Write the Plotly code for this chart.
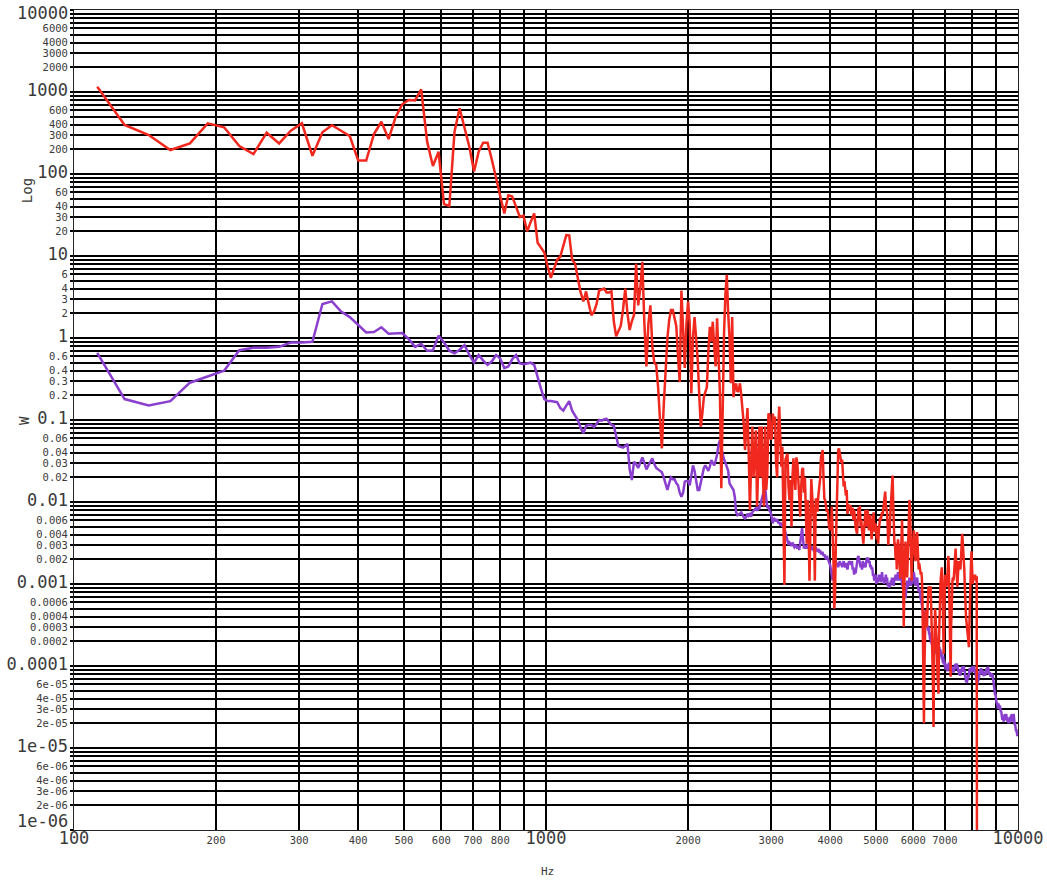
import plotly.graph_objects as go

# FFT bin spacing (Hz) and first bin index shown
BIN_HZ = 16
FIRST_BIN = 7

# Spectrum magnitudes, one value per 16 Hz bin starting at 112 Hz
log_series = [
    1160, 396, 299, 196, 236, 415, 371, 219, 175, 319,
    236, 337, 415, 167, 323, 393, 337, 290, 146, 146,
    307, 434, 267, 491, 708, 798, 790, 1079, 248, 125,
    187, 43, 40.7, 328, 633, 361, 215, 107, 187, 241,
    240, 148, 89, 58, 33, 55, 53, 40, 30, 31,
    20, 26, 33, 14.5, 12.5, 11, 7.5, 5.4, 7.0, 9.0,
    9.8, 13, 18, 17.8, 9.0, 8.1, 5.5, 3.6, 2.8, 3.7,
    2.6, 1.9, 2.1, 2.6, 3.8, 3.9, 4.0, 3.6, 3.6, 3.7,
    1.6, 1.05, 1.2, 1.4, 2.2, 4.0, 2.0, 1.25, 1.6, 1.9,
    8.1, 2.5, 4.0, 8.5, 1.5, 0.45, 1.5, 2.5, 0.78, 0.5,
    0.47, 0.25, 0.1, 0.045, 0.15, 0.49, 1.0, 1.66, 2.2, 2.2,
    1.8, 1.4, 0.6, 0.29, 3.8, 1.0, 0.43, 1.5, 2.8,
    1.5, 0.21, 1.0, 1.8, 1.0, 0.54, 0.2, 0.083, 0.12, 0.19,
    0.22, 0.25, 0.7, 1.37, 0.9, 1.58, 0.8, 0.45, 1.74, 0.6,
    0.21, 0.0147, 0.21, 1.2, 3.5, 5.9, 2.0, 1.0, 0.28, 1.8,
    0.19, 0.25, 0.28, 0.22, 0.23, 0.28, 0.2, 0.13, 0.09, 0.043,
    0.09, 0.14, 0.04, 0.008, 0.03, 0.083, 0.02, 0.05, 0.075, 0.0088,
    0.04, 0.083, 0.02, 0.083, 0.022, 0.0088, 0.083, 0.014, 0.022, 0.12,
    0.115, 0.058, 0.06, 0.12, 0.09, 0.11, 0.03, 0.02, 0.08, 0.146,
    0.06, 0.027, 0.047, 0.0105, 0.00097, 0.033, 0.036, 0.039, 0.0154, 0.0105,
    0.0185, 0.005, 0.02, 0.034, 0.02, 0.014, 0.035, 0.03, 0.019, 0.0129,
    0.0066, 0.015, 0.025, 0.026, 0.013, 0.02, 0.0092, 0.0031, 0.0106, 0.005,
    0.0011, 0.006, 0.019, 0.012, 0.008, 0.0055, 0.0011, 0.011, 0.0105, 0.0076,
    0.012, 0.015, 0.019, 0.035, 0.041, 0.043, 0.02, 0.011, 0.0105, 0.009,
    0.0076, 0.008, 0.006, 0.0046, 0.005, 0.0045, 0.0088, 0.0045, 0.002, 0.0005,
    0.0007, 0.0029, 0.0088, 0.02, 0.043, 0.045, 0.04, 0.035, 0.03, 0.033,
    0.025, 0.0155, 0.018, 0.014, 0.012, 0.014, 0.0071, 0.0085, 0.009, 0.0088,
    0.0092, 0.0072, 0.0069, 0.0085, 0.006, 0.008, 0.0055, 0.005, 0.0045, 0.0041,
    0.006, 0.0085, 0.007, 0.009, 0.005, 0.006, 0.0045, 0.0038, 0.0031, 0.0045,
    0.006, 0.008, 0.0065, 0.005, 0.008, 0.0045, 0.0045, 0.0065, 0.007, 0.005,
    0.0035, 0.0045, 0.006, 0.0075, 0.005, 0.0043, 0.0055, 0.004, 0.0035, 0.005,
    0.0031, 0.0045, 0.0055, 0.0065, 0.006, 0.0075, 0.0075, 0.007, 0.0085, 0.009,
    0.011, 0.0134, 0.009, 0.0075, 0.0075, 0.005, 0.003, 0.005, 0.004, 0.0065,
    0.008, 0.012, 0.016, 0.021, 0.01, 0.005, 0.0031, 0.0031, 0.002, 0.0025,
    0.0015, 0.0025, 0.0035, 0.003, 0.002, 0.0015, 0.00117, 0.002, 0.004, 0.006,
    0.003, 0.001, 0.0003, 0.001, 0.002, 0.0033, 0.002, 0.0015, 0.0012, 0.002,
    0.004, 0.007, 0.0106, 0.009, 0.004, 0.0018, 0.0011, 0.002, 0.003, 0.004,
    0.0045, 0.0035, 0.0025, 0.0019, 0.0025, 0.0035, 0.0043, 0.003, 0.002, 0.0015,
    0.0018, 0.0016, 0.0016, 0.0013, 0.0014, 0.0012, 0.0008, 0.0003, 8e-5, 2e-5,
    0.0001, 0.0003, 0.00048, 0.0004, 0.00035, 0.0003, 0.0005, 0.0008, 0.00093, 0.0009,
    0.0008, 0.0009, 0.00093, 0.0006, 0.0004, 0.00025, 0.0001, 5e-5, 1.8e-5, 0.0001,
    0.0003, 0.0005, 0.0004, 0.0003, 0.00023, 0.00015, 8e-5, 6e-5, 4.6e-5, 0.0002,
    0.0005, 0.0008, 0.00093, 0.0012, 0.0014, 0.0016, 0.0012, 0.0006, 0.0003, 0.00014,
    0.0004, 0.0009, 0.0013, 0.0012, 0.0011, 0.001, 0.00093, 0.0013, 0.0018, 0.0022,
    0.0015, 0.0006, 0.0002, 0.0001, 7.4e-5, 0.0003, 0.0007, 0.001, 0.0011, 0.0012,
    0.0011, 0.0012, 0.0015, 0.002, 0.0024, 0.0027, 0.002, 0.0014, 0.001, 0.00093,
    0.0012, 0.0016, 0.0019, 0.0017, 0.0015, 0.0016, 0.0015, 0.002, 0.0028, 0.0035,
    0.0041, 0.0035, 0.003, 0.0025, 0.0022, 0.0015, 0.001, 0.0006, 0.00044, 0.0004,
    0.00035, 0.0003, 0.0003, 0.00025, 0.0002, 0.00017, 0.00017, 0.0003, 0.0006, 0.0009,
    0.0012, 0.0018, 0.0025, 0.002, 0.0015, 0.001, 0.0011, 0.0012, 0.0012, 0.0013,
    0.0012, 0.0013, 0.0012, 0.0011, 0.0012, 0.0012, 1e-9,
]

w_series = [
    0.66, 0.18, 0.15, 0.17, 0.285, 0.34, 0.40, 0.71, 0.76, 0.76,
    0.78, 0.88, 0.88, 0.90, 2.6, 2.8, 2.1, 1.8, 1.44, 1.17,
    1.18, 1.35, 1.13, 1.13, 1.15, 0.97, 0.78, 0.85, 0.70, 0.71,
    1.07, 0.88, 0.70, 0.65, 0.72, 0.82, 0.62, 0.50, 0.62, 0.53,
    0.47, 0.52, 0.62, 0.56, 0.43, 0.45, 0.55, 0.62, 0.49, 0.48,
    0.49, 0.50, 0.47, 0.33, 0.24, 0.18, 0.17, 0.17, 0.168, 0.165,
    0.14, 0.13, 0.15, 0.17, 0.13, 0.115, 0.10, 0.08, 0.069, 0.085,
    0.087, 0.087, 0.082, 0.09, 0.10, 0.098, 0.102, 0.103, 0.095, 0.087,
    0.085, 0.065, 0.048, 0.047, 0.046, 0.048, 0.051, 0.025, 0.0185, 0.031,
    0.029, 0.026, 0.031, 0.035, 0.03, 0.025, 0.028, 0.031, 0.034, 0.029,
    0.026, 0.025, 0.024, 0.023, 0.02, 0.016, 0.014, 0.017, 0.02, 0.019,
    0.019, 0.017, 0.016, 0.013, 0.0116, 0.013, 0.0177, 0.018, 0.018, 0.016,
    0.022, 0.028, 0.024, 0.018, 0.014, 0.014, 0.017, 0.022, 0.026, 0.028,
    0.026, 0.024, 0.027, 0.0325, 0.03, 0.028, 0.032, 0.038, 0.05, 0.057,
    0.045, 0.038, 0.033, 0.03, 0.027, 0.024, 0.0169, 0.016, 0.015, 0.014,
    0.0115, 0.0075, 0.0069, 0.007, 0.0072, 0.0075, 0.0068, 0.0065, 0.0063, 0.0066,
    0.0072, 0.0068, 0.0071, 0.0066, 0.0075, 0.0078, 0.0082, 0.0084, 0.0078, 0.0085,
    0.0084, 0.0095, 0.011, 0.0128, 0.0147, 0.0155, 0.011, 0.0084, 0.009, 0.0078,
    0.0075, 0.0062, 0.0055, 0.0064, 0.006, 0.0058, 0.0062, 0.0055, 0.0057, 0.0052,
    0.0056, 0.005, 0.0053, 0.0048, 0.0043, 0.004, 0.0034, 0.003, 0.0032, 0.0031,
    0.0029, 0.0032, 0.003, 0.0028, 0.0029, 0.003, 0.0027, 0.0029, 0.0026, 0.0031,
    0.0038, 0.0048, 0.0035, 0.0027, 0.0029, 0.0027, 0.003, 0.0028, 0.0027, 0.003,
    0.0028, 0.0029, 0.0026, 0.0028, 0.0025, 0.0027, 0.0028, 0.0026, 0.0025, 0.0027,
    0.0024, 0.0026, 0.0023, 0.0024, 0.0024, 0.0022, 0.0023, 0.0021, 0.002, 0.0022,
    0.002, 0.0019, 0.0018, 0.0017, 0.0015, 0.0013, 0.0011, 0.0014, 0.0018, 0.002,
    0.0019, 0.0017, 0.0018, 0.0016, 0.0018, 0.0019, 0.0017, 0.0018, 0.0016, 0.0017,
    0.0019, 0.0017, 0.0016, 0.0018, 0.0016, 0.0015, 0.0017, 0.0019, 0.0018,
    0.0019, 0.0017, 0.0019, 0.0015, 0.0016, 0.0013, 0.0015, 0.00135, 0.0016, 0.0017,
    0.0021, 0.0022, 0.0019, 0.0018, 0.0016, 0.0017, 0.0015, 0.0019, 0.0018, 0.0016,
    0.0017, 0.0016, 0.002, 0.0021, 0.0019, 0.0021, 0.0018, 0.0019, 0.0016, 0.0017,
    0.0015, 0.0016, 0.0013, 0.0013, 0.0011, 0.00117, 0.0013, 0.001, 0.0012, 0.00105,
    0.0011, 0.0013, 0.0012, 0.0013, 0.00105, 0.0012, 0.0014, 0.0011, 0.0012, 0.001,
    0.0012, 0.00105, 0.0013, 0.0011, 0.0012, 0.00095, 0.001, 0.0009, 0.001, 0.00093,
    0.0011, 0.001, 0.0012, 0.001, 0.0011, 0.00095, 0.0012, 0.0011, 0.0013, 0.0011,
    0.0013, 0.0012, 0.0014, 0.0011, 0.0013, 0.0012, 0.0014, 0.0011, 0.0012, 0.00095,
    0.001, 0.00085, 0.0009, 0.00072, 0.0008, 0.00067, 0.00085, 0.0009, 0.0011, 0.0009,
    0.0011, 0.00095, 0.0012, 0.001, 0.0011, 0.00095, 0.0012, 0.001, 0.0013, 0.0012,
    0.0014, 0.0011, 0.0012, 0.00095, 0.0011, 0.001, 0.0012, 0.00095, 0.001, 0.0008,
    0.00088, 0.00075, 0.00077, 0.00065, 0.00062, 0.00052, 0.00052, 0.00045, 0.00047, 0.00042,
    0.00042, 0.00035, 0.00037, 0.00032, 0.00035, 0.00029, 0.00031, 0.00027, 0.0003, 0.00025,
    0.00025, 0.00021, 0.00023, 0.00019, 0.00021, 0.00018, 0.0002, 0.00016, 0.00018, 0.00015,
    0.00018, 0.00015, 0.00017, 0.00014, 0.00018, 0.00015, 0.00017, 0.00014, 0.00018, 0.00015,
    0.00017, 0.00014, 0.00016, 0.00013, 0.00015, 0.00012, 0.00014, 0.00011, 0.00013, 0.000105,
    0.00012, 0.0001, 0.00011, 9e-5, 0.000105, 9e-5, 0.0001, 8.6e-5, 0.000105, 9e-5,
    0.00011, 9e-5, 0.000105, 9.5e-5, 0.00011, 9e-5, 0.0001, 8.5e-5, 9.5e-5, 8.3e-5,
    9.5e-5, 8.4e-5, 9.6e-5, 8.8e-5, 0.000105, 9.2e-5, 0.000108, 9.4e-5, 0.000107, 9.3e-5,
    0.0001, 8.5e-5, 9.2e-5, 7.8e-5, 8.8e-5, 7.6e-5, 8.6e-5, 7.9e-5, 9.2e-5, 8.4e-5,
    9.8e-5, 8.7e-5, 0.0001, 8.8e-5, 0.0001, 8.5e-5, 8.8e-5, 7.2e-5, 7.6e-5, 6.4e-5,
    7e-5, 6.2e-5, 6.8e-5, 6.4e-5, 7.8e-5, 7.2e-5, 8.8e-5, 8e-5, 9.5e-5, 8.4e-5,
    9.4e-5, 8.3e-5, 9.6e-5, 8.6e-5, 9.8e-5, 8.5e-5, 0.0001, 8.8e-5, 0.0001, 9e-5,
    9.8e-5, 8.2e-5, 8.5e-5, 7e-5, 7.2e-5, 6.2e-5, 6.8e-5, 6e-5, 7e-5, 6.6e-5,
    7.8e-5, 7.2e-5, 8.6e-5, 7.8e-5, 9.2e-5, 8.2e-5, 9.4e-5, 8.4e-5, 9.2e-5, 8e-5,
    8.8e-5, 7.6e-5, 8.6e-5, 7.5e-5, 8.4e-5, 7.6e-5, 8.5e-5, 7.6e-5, 8.8e-5, 8e-5,
    9.4e-5, 8.5e-5, 9.6e-5, 8.8e-5, 9.8e-5, 8.6e-5, 9e-5, 7.8e-5, 8.4e-5, 7.5e-5,
    8.3e-5, 7.4e-5, 8.2e-5, 7.4e-5, 8.1e-5, 7.3e-5, 8e-5, 7.2e-5, 7e-5, 6e-5,
    5.6e-5, 4.8e-5, 5e-5, 4.4e-5, 4.6e-5, 4e-5, 4.1e-5, 3.5e-5, 3.6e-5, 3.1e-5,
    3.4e-5, 3e-5, 3.5e-5, 3.1e-5, 3.4e-5, 3e-5, 3.3e-5, 2.9e-5, 3.2e-5, 2.7e-5,
    2.8e-5, 2.4e-5, 2.6e-5, 2.2e-5, 2.4e-5, 2.1e-5, 2.3e-5, 2.1e-5, 2.5e-5, 2.2e-5,
    2.6e-5, 2.2e-5, 2.5e-5, 2.2e-5, 2.6e-5, 2.2e-5, 2.5e-5, 2.1e-5, 2.3e-5, 2e-5,
    2.3e-5, 2e-5, 2.3e-5, 2e-5, 2.4e-5, 2.1e-5, 2.4e-5, 2.1e-5, 2.5e-5, 2.2e-5,
    2.6e-5, 2.2e-5, 2.5e-5, 2.1e-5, 2.5e-5, 2.2e-5, 2.6e-5, 2.2e-5, 2.3e-5, 1.9e-5,
    2e-5, 1.7e-5, 1.8e-5, 1.6e-5, 1.7e-5, 1.5e-5, 1.6e-5, 1.4e-5, 1.5e-5, 1.45e-5,
]

# Grid positions and labels (blank label = grid line only)
x_tick_vals = [100, 200, 300, 400, 500, 600, 700, 800, 900,
               1000, 2000, 3000, 4000, 5000, 6000, 7000, 8000, 9000, 10000]
x_tick_labels = ["100", "200", "300", "400", "500", "600", "700", "800", "",
                 "1000", "2000", "3000", "4000", "5000", "6000", "7000", "", "", "10000"]
x_major = {"100", "1000", "10000"}

# Decade labels; the two at the ends of the axis are placed separately
y_decades = [1e-6, 1e-5, 1e-4, 1e-3, 1e-2, 1e-1, 1, 10, 100, 1000]
y_decade_labels = ["", "1e-05", "0.0001", "0.001", "0.01", "0.1", "1", "10", "100", "1000"]
y_bottom_label = "1e-06"
y_top_label = "10000"
y_minor_labels = {
    1e-6: ["2e-06", "3e-06", "4e-06", "", "6e-06", "", "", ""],
    1e-5: ["2e-05", "3e-05", "4e-05", "", "6e-05", "", "", ""],
    1e-4: ["0.0002", "0.0003", "0.0004", "", "0.0006", "", "", ""],
    1e-3: ["0.002", "0.003", "0.004", "", "0.006", "", "", ""],
    1e-2: ["0.02", "0.03", "0.04", "", "0.06", "", "", ""],
    1e-1: ["0.2", "0.3", "0.4", "", "0.6", "", "", ""],
    1: ["2", "3", "4", "", "6", "", "", ""],
    10: ["20", "30", "40", "", "60", "", "", ""],
    100: ["200", "300", "400", "", "600", "", "", ""],
    1000: ["2000", "3000", "4000", "", "6000", "", "", ""],
}

BIG = 17
SMALL = 10.5


def styled(label, big):
    if not label:
        return ""
    return f'<span style="font-size:{BIG if big else SMALL}px">{label}</span>'


y_tick_vals, y_tick_text = [], []
for dec, dec_label in zip(y_decades, y_decade_labels):
    y_tick_vals.append(dec)
    y_tick_text.append(styled(dec_label, True))
    for m, lab in zip(range(2, 10), y_minor_labels[dec]):
        y_tick_vals.append(m * dec)
        y_tick_text.append(styled(lab, False))
y_tick_vals.append(10000)
y_tick_text.append("")

x_tick_text = [styled(t, t in x_major) for t in x_tick_labels]

f_log = [BIN_HZ * (FIRST_BIN + i) for i in range(len(log_series))]
f_w = [BIN_HZ * (FIRST_BIN + i) for i in range(len(w_series))]

fig = go.Figure()
fig.add_trace(go.Scatter(x=f_w, y=w_series, mode="lines",
                         line=dict(color="#8a3fcf", width=2.5), name="W"))
fig.add_trace(go.Scatter(x=f_log, y=log_series, mode="lines",
                         line=dict(color="#f0281e", width=2.5), name="Log"))

font_family = "DejaVu Sans Mono"
label_color = "#3a3a3a"

fig.update_layout(
    width=1047, height=881,
    margin=dict(l=74, r=29, t=10, b=51, autoexpand=False),
    paper_bgcolor="white", plot_bgcolor="white",
    showlegend=False,
    font=dict(family=font_family, color=label_color, size=SMALL),
    xaxis=dict(type="log", range=[2, 4], tickmode="array",
               tickvals=x_tick_vals, ticktext=x_tick_text,
               showgrid=True, gridcolor="black", gridwidth=2,
               showline=True, linecolor="#222222", linewidth=1, mirror=True,
               ticks="", zeroline=False, automargin=False,
               ticklabeloverflow="allow"),
    yaxis=dict(type="log", range=[-6, 4.00001], tickmode="array",
               tickvals=y_tick_vals, ticktext=y_tick_text,
               showgrid=True, gridcolor="black", gridwidth=2,
               showline=True, linecolor="#222222", linewidth=1, mirror=True,
               ticks="outside", ticklen=3, tickcolor="black", tickwidth=1.5,
               zeroline=False, automargin=False,
               ticklabeloverflow="allow"),
    annotations=[
        # end-of-axis decade labels, nudged inward so they stay on the page
        dict(text=y_top_label, xref="paper", yref="paper", x=0, y=1,
             xanchor="right", yanchor="top", xshift=-4, yshift=9,
             showarrow=False, font=dict(size=BIG, family=font_family, color=label_color)),
        dict(text=y_bottom_label, xref="paper", yref="paper", x=0, y=0,
             xanchor="right", yanchor="bottom", xshift=-4, yshift=-3,
             showarrow=False, font=dict(size=BIG, family=font_family, color=label_color)),
        dict(text="Log", xref="paper", yref="paper", x=-0.049, y=0.78,
             xanchor="center", yanchor="middle",
             showarrow=False, textangle=-90,
             font=dict(size=14, family=font_family, color=label_color)),
        dict(text="W", xref="paper", yref="paper", x=-0.053, y=0.5,
             xanchor="center", yanchor="middle",
             showarrow=False, textangle=-90,
             font=dict(size=14, family=font_family, color=label_color)),
        dict(text="Hz", xref="paper", yref="paper", x=0.502, y=-0.051,
             xanchor="center", yanchor="middle",
             showarrow=False, font=dict(size=11, family=font_family, color=label_color)),
    ],
)

fig.write_html("out.html")
